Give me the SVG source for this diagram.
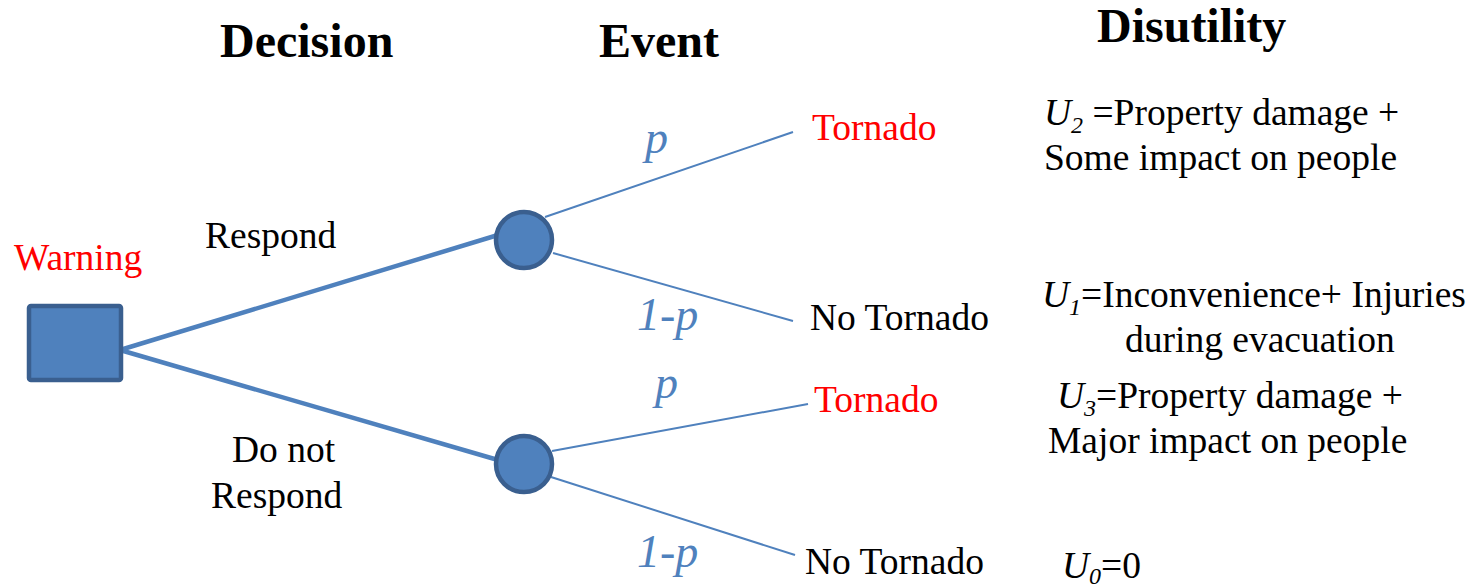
<svg xmlns="http://www.w3.org/2000/svg" width="1480" height="588" viewBox="0 0 1480 588">
<style>
text{font-family:"Liberation Serif","Times New Roman",serif;font-size:37.5px;fill:#000}
.h{font-weight:bold;font-size:48px}
.red{fill:#FF0000}
.prob{fill:#4F81BD;font-style:italic;font-size:46px}
.it{font-style:italic}
.sub{font-style:italic;font-size:24px}
.thick{stroke:#4F81BD;stroke-width:4.5;fill:none}
.thin{stroke:#4F81BD;stroke-width:2;fill:none}
.node{fill:#4F81BD;stroke:#3A5F8F;stroke-width:4.5}
</style>
<rect width="1480" height="588" fill="#fff"/>
<g id="headers">
<text class="h" x="220" y="57">Decision</text>
<text class="h" x="599" y="57">Event</text>
<text class="h" x="1097" y="42">Disutility</text>
</g>
<g id="connectors">
<line class="thick" x1="120" y1="350" x2="498" y2="235"/>
<line class="thick" x1="120" y1="350" x2="498" y2="460"/>
<line class="thin" x1="545" y1="217" x2="793" y2="132"/>
<line class="thin" x1="553" y1="253" x2="793" y2="321"/>
<line class="thin" x1="552" y1="451" x2="808" y2="404"/>
<line class="thin" x1="551" y1="477" x2="795" y2="555"/>
</g>
<g id="decision-node">
<rect class="node" x="29" y="306" width="92" height="74" rx="2"/>
<text class="red" x="14" y="270">Warning</text>
</g>
<g id="respond-label"><text x="205" y="248">Respond</text></g>
<g id="donot-label"><text x="232" y="462">Do not</text><text x="211" y="508">Respond</text></g>
<g id="event-node-1"><circle class="node" cx="524" cy="240" r="28"/></g>
<g id="event-node-2"><circle class="node" cx="524" cy="464" r="28"/></g>
<g id="prob-labels">
<text class="prob" x="645" y="153">p</text>
<text class="prob" x="637" y="330">1-p</text>
<text class="prob" x="655" y="398">p</text>
<text class="prob" x="637" y="567">1-p</text>
</g>
<g id="outcome-1"><text class="red" x="812" y="140">Tornado</text></g>
<g id="outcome-2"><text x="810" y="330">No Tornado</text></g>
<g id="outcome-3"><text class="red" x="814" y="412">Tornado</text></g>
<g id="outcome-4"><text x="805" y="574">No Tornado</text></g>
<g id="u2">
<text x="1044" y="125"><tspan class="it">U</tspan><tspan class="sub" dy="8">2</tspan><tspan dy="-8"> =Property damage +</tspan></text>
<text x="1044" y="170">Some impact on people</text>
</g>
<g id="u1">
<text x="1042" y="307"><tspan class="it">U</tspan><tspan class="sub" dy="8">1</tspan><tspan dy="-8">=Inconvenience+ Injuries</tspan></text>
<text x="1125" y="352">during evacuation</text>
</g>
<g id="u3">
<text x="1057" y="408"><tspan class="it">U</tspan><tspan class="sub" dy="8">3</tspan><tspan dy="-8">=Property damage +</tspan></text>
<text x="1048" y="453">Major impact on people</text>
</g>
<g id="u0">
<text x="1062" y="578"><tspan class="it">U</tspan><tspan class="sub" dy="6">0</tspan><tspan dy="-6">=0</tspan></text>
</g>
</svg>
